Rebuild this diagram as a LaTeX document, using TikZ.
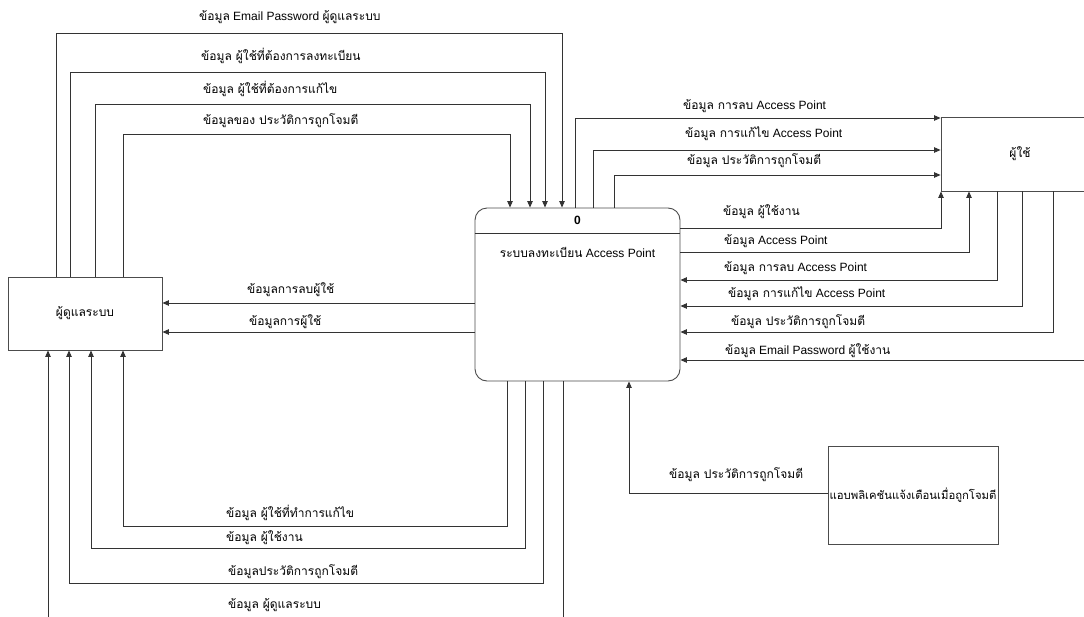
\documentclass[tikz,border=0pt]{standalone}
\usepackage{fontspec}
\setmainfont{Liberation Sans}
\newfontfamily\thaifont[Script=Thai]{Loma}
\newcommand\tht[1]{{\thaifont #1}}
\usetikzlibrary{arrows.meta}

\begin{document}
\begin{tikzpicture}[x=1pt,y=-1pt,
  font=\fontsize{12}{14}\selectfont,
  wire/.style={draw=black!80, line width=0.9pt},
  flow/.style={wire, -{Triangle[length=6.5pt,width=5.5pt]}},
  box/.style={draw=black!70, line width=0.9pt, fill=white, inner sep=2pt},
  lbl/.style={inner sep=0pt, anchor=west}]

\useasboundingbox (0,0) rectangle (1084,616);

% external entities and the process
\node[box, minimum width=154pt, minimum height=73pt] (A) at (85,313.5) {\tht{ผู้ดูแลระบบ}};
\node[box, rounded corners=12pt, minimum width=205pt, minimum height=173pt] (P) at (577.5,294.5) {};
\draw[wire] (P.west |- 0,233) -- (P.east |- 0,233);
\node (Pn) at (577.5,220) {\textbf{0}};
\node (Pt) at (577.5,252) {\tht{ระบบลงทะเบียน} Access Point};
\node[box, minimum width=158pt, minimum height=74pt] (U) at (1020,154) {\tht{ผู้ใช้}};
\node[box, minimum width=170pt, minimum height=98pt, inner sep=0pt,
      font=\fontsize{11.3}{13}\selectfont] (N) at (913,495) {\tht{แอบพลิเคชันแจ้งเตือนเมื่อถูกโจมตี}};
\coordinate (E) at (1100,360);

% admin -> process
\draw[flow] (56,0 |- A.north) -- (56,33) -| (562,0 |- P.north);
\draw[flow] (70,0 |- A.north) -- (70,72) -| (545,0 |- P.north);
\draw[flow] (95,0 |- A.north) -- (95,104) -| (530,0 |- P.north);
\draw[flow] (123,0 |- A.north) -- (123,134) -| (510,0 |- P.north);
\node[lbl] (t1) at (199,17) {\tht{ข้อมูล} Email Password \tht{ผู้ดูแลระบบ}};
\node[lbl] (t2) at (201,56) {\tht{ข้อมูล ผู้ใช้ที่ต้องการลงทะเบียน}};
\node[lbl] (t3) at (203,89) {\tht{ข้อมูล ผู้ใช้ที่ต้องการแก้ไข}};
\node[lbl] (t4) at (203,121) {\tht{ข้อมูลของ ประวัติการถูกโจมตี}};

% process -> user (top)
\draw[flow] (575,0 |- P.north) |- (U.west |- 0,118);
\draw[flow] (593,0 |- P.north) |- (U.west |- 0,150);
\draw[flow] (614,0 |- P.north) |- (U.west |- 0,175);
\node[lbl] (r1) at (683,106) {\tht{ข้อมูล การลบ} Access Point};
\node[lbl] (r2) at (685,134) {\tht{ข้อมูล การแก้ไข} Access Point};
\node[lbl] (r3) at (687,161) {\tht{ข้อมูล ประวัติการถูกโจมตี}};

% process <-> user (right)
\draw[flow] (P.east |- 0,228) -| (941,0 |- U.south);
\draw[flow] (P.east |- 0,252) -| (969,0 |- U.south);
\draw[flow] (997,0 |- U.south) |- (P.east |- 0,280);
\draw[flow] (1022,0 |- U.south) |- (P.east |- 0,306);
\draw[flow] (1053,0 |- U.south) |- (P.east |- 0,332);
\draw[flow] (E) -- (P.east |- E);
\node[lbl] (s1) at (723,212) {\tht{ข้อมูล ผู้ใช้งาน}};
\node[lbl] (s2) at (724,241) {\tht{ข้อมูล} Access Point};
\node[lbl] (s3) at (724,268) {\tht{ข้อมูล การลบ} Access Point};
\node[lbl] (s4) at (728,294) {\tht{ข้อมูล การแก้ไข} Access Point};
\node[lbl] (s5) at (731,322) {\tht{ข้อมูล ประวัติการถูกโจมตี}};
\node[lbl] (s6) at (725,351) {\tht{ข้อมูล} Email Password \tht{ผู้ใช้งาน}};

% process -> admin (left)
\draw[flow] (P.west |- 0,303) -- (A.east |- 0,303);
\draw[flow] (P.west |- 0,332) -- (A.east |- 0,332);
\node[lbl] (m1) at (247,290) {\tht{ข้อมูลการลบผู้ใช้}};
\node[lbl] (m2) at (249,322) {\tht{ข้อมูลการผู้ใช้}};

% process -> admin (bottom)
\draw[flow] (507,0 |- P.south) -- (507,526) -| (123,0 |- A.south);
\draw[flow] (525,0 |- P.south) -- (525,548) -| (91,0 |- A.south);
\draw[flow] (543,0 |- P.south) -- (543,583) -| (69,0 |- A.south);
\draw[flow] (563,0 |- P.south) -- (563,630) -| (48,0 |- A.south);
\node[lbl] (b1) at (226,513) {\tht{ข้อมูล ผู้ใช้ที่ทำการแก้ไข}};
\node[lbl] (b2) at (226,538) {\tht{ข้อมูล ผู้ใช้งาน}};
\node[lbl] (b3) at (228,572) {\tht{ข้อมูลประวัติการถูกโจมตี}};
\node[lbl] (b4) at (228,605) {\tht{ข้อมูล ผู้ดูแลระบบ}};

% notification app -> process
\draw[flow] (N.west |- 0,493) -| (629,0 |- P.south);
\node[lbl] (n1) at (669,475) {\tht{ข้อมูล ประวัติการถูกโจมตี}};
\end{tikzpicture}
\end{document}
